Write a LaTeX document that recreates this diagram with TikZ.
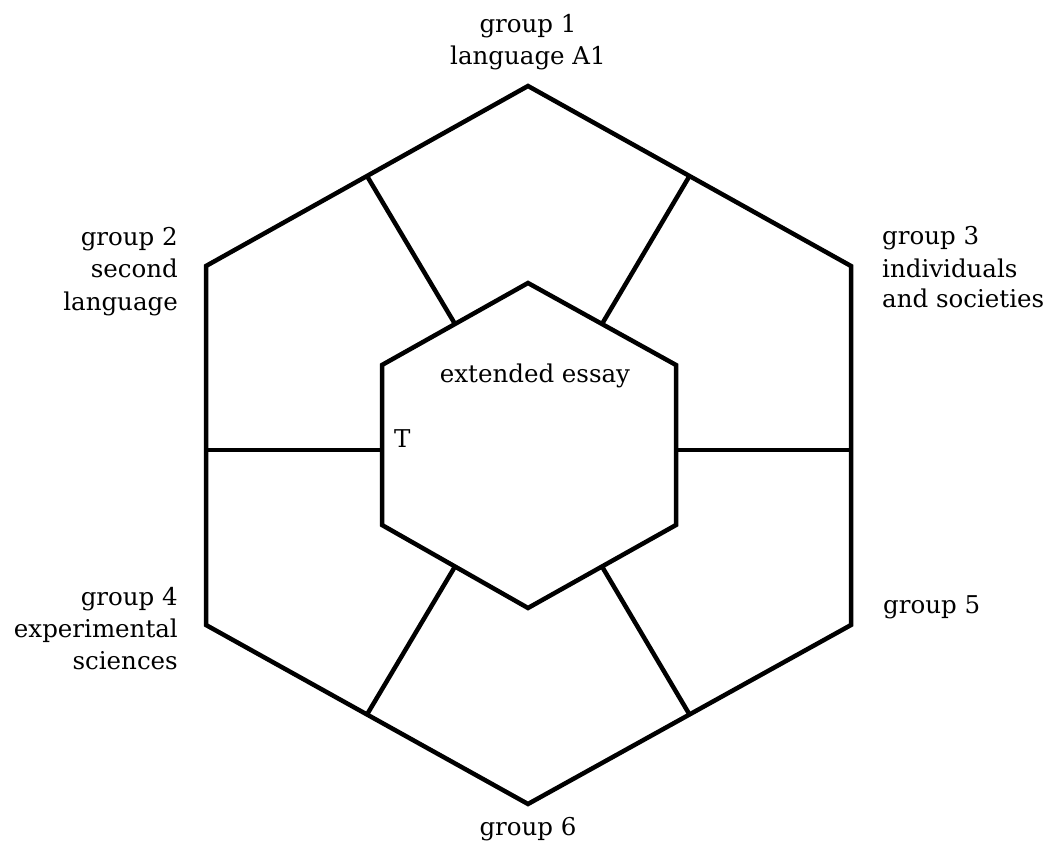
\documentclass[tikz,border=0pt]{standalone}
\usepackage{fontspec}
\setmainfont{DejaVu Serif}
\usetikzlibrary{calc}
\begin{document}
\begin{tikzpicture}[x=1pt,y=-1pt,
  edge/.style={line width=4.5pt,line join=miter},
  lbl/.style={inner sep=0pt,font=\fontsize{24.5}{29}\selectfont}]
\useasboundingbox (0,0) rectangle (1050,845);
% outer hexagon
\coordinate (O1) at (528,86);
\coordinate (O2) at (851,266);
\coordinate (O3) at (851,625);
\coordinate (O4) at (528,804);
\coordinate (O5) at (206,625);
\coordinate (O6) at (206,266);
% inner hexagon
\coordinate (I1) at (528,283);
\coordinate (I2) at (676,365);
\coordinate (I3) at (676,525);
\coordinate (I4) at (528,608);
\coordinate (I5) at (382,525);
\coordinate (I6) at (382,365);
\draw[edge] (O1) -- (O2) -- (O3) -- (O4) -- (O5) -- (O6) -- cycle;
\draw[edge] (I1) -- (I2) -- (I3) -- (I4) -- (I5) -- (I6) -- cycle;
% spokes
\draw[edge] ($(I6)!0.5!(I1)$) -- ($(O6)!0.5!(O1)$);
\draw[edge] ($(I1)!0.5!(I2)$) -- ($(O1)!0.5!(O2)$);
\coordinate (RI) at (676,450);
\coordinate (RO) at (851,450);
\coordinate (LI) at (382,450);
\coordinate (LO) at (206,450);
\draw[edge] (RI) -- (RO);
\draw[edge] (LI) -- (LO);
\draw[edge] ($(I4)!0.5!(I5)$) -- ($(O4)!0.5!(O5)$);
\draw[edge] ($(I3)!0.5!(I4)$) -- ($(O3)!0.5!(O4)$);
% labels
\node[lbl,anchor=base] (g1a) at (528,33) {group 1};
\node[lbl,anchor=base] (g1b) at (528,65) {language A1};
\node[lbl,anchor=base east] (g2a) at (178,246) {group 2};
\node[lbl,anchor=base east] (g2b) at (178,278) {second};
\node[lbl,anchor=base east] (g2c) at (178,310) {language};
\node[lbl,anchor=base west] (g3a) at (882,245) {group 3};
\node[lbl,anchor=base west] (g3b) at (882,277) {individuals};
\node[lbl,anchor=base west] (g3c) at (882,308) {and societies};
\node[lbl,anchor=base east] (g4a) at (178,605) {group 4};
\node[lbl,anchor=base east] (g4b) at (178,637) {experimental};
\node[lbl,anchor=base east] (g4c) at (178,669) {sciences};
\node[lbl,anchor=base west] (g5) at (883,613) {group 5};
\node[lbl,anchor=base] (g6) at (528,835) {group 6};
\node[lbl,anchor=base] (ee) at (535,382) {extended essay};
\node[lbl,anchor=base west] (T) at (394,447) {T};
\end{tikzpicture}
\end{document}
